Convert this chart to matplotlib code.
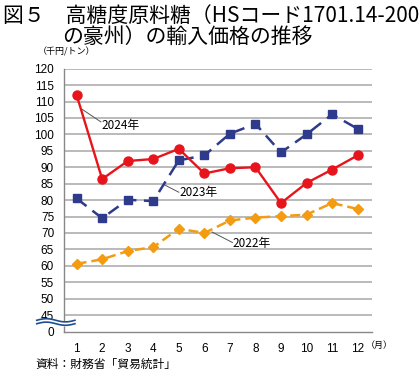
import numpy as np
import matplotlib.pyplot as plt

plt.rcParams['font.family'] = ['Liberation Sans', 'Noto Sans CJK JP']

months = list(range(1, 13))
y2024 = [112.0, 86.4, 91.9, 92.5, 95.6, 88.1, 89.7, 90.0, 79.1, 85.2, 89.3, 93.6]
y2023 = [80.5, 74.5, 80.1, 79.7, 92.1, 93.6, 100.2, 103.2, 94.5, 100.0, 106.1, 101.7]
y2022 = [60.6, 62.0, 64.5, 65.7, 71.3, 70.0, 73.8, 74.7, 75.1, 75.6, 79.1, 77.3]

yticks = list(range(40, 121, 5))
ytick_labels = ['0'] + [str(v) for v in yticks[1:]]

fig = plt.figure(figsize=(4.2, 3.73), dpi=100)
ax = fig.add_axes([0.152, 0.111, 0.733, 0.705])

cjk = ['Noto Sans CJK JP']

for v in yticks[1:]:
    ax.axhline(v, color='#b4b4b4', lw=1.3, zorder=0)

ax.plot(months, y2022, color='#f39c12', lw=1.8, ls=(0, (4, 2)),
        marker='D', ms=5.5, zorder=3)
ax.plot(months, y2023, color='#2e3a8c', lw=1.8, ls=(0, (5, 3)),
        marker='s', ms=5.5, zorder=3)
ax.plot(months, y2024, color='#e8141c', lw=1.7, marker='o', ms=6.5,
        zorder=4)

# series labels with leader lines
ax.plot([1.22, 1.95], [107.6, 103.8], color='#555555', lw=0.7, zorder=2)
ax.text(1.98, 102.6, '2024年', fontsize=8.5, va='center', ha='left',
        family=cjk)
ax.plot([4.45, 5.0], [84.6, 82.4], color='#555555', lw=0.7, zorder=2)
ax.text(5.04, 82.4, '2023年', fontsize=8.5, va='center', ha='left',
        family=cjk)
ax.plot([6.3, 7.1], [70.3, 67.1], color='#555555', lw=0.7, zorder=2)
ax.text(7.12, 66.7, '2022年', fontsize=8.5, va='center', ha='left',
        family=cjk)

ax.set_xlim(0.5, 12.55)
ax.set_ylim(40, 120)
ax.set_xticks(months)
ax.set_yticks(yticks)
ax.set_yticklabels(ytick_labels)
ax.tick_params(length=0, labelsize=8.5)
ax.tick_params(axis='y', pad=7)
ax.tick_params(axis='x', pad=8)
for s in ['top', 'right']:
    ax.spines[s].set_visible(False)
for s in ['left', 'bottom']:
    ax.spines[s].set_color('#888888')
    ax.spines[s].set_linewidth(1.0)

# axis break marks
wx = np.linspace(-0.088, 0.036, 60)
wave = 0.006 * np.sin((wx + 0.088) / 0.124 * 2 * np.pi)
ax.fill_between(wx, 0.043 + wave, 0.030 + wave, transform=ax.transAxes,
                color='white', clip_on=False, zorder=5)
for base in (0.043, 0.030):
    ax.plot(wx, base + wave, transform=ax.transAxes, color='#1f4e8c', lw=1.2,
            clip_on=False, zorder=6)

fig.text(0.008, 0.958, '図５　高糖度原料糖（HSコード1701.14-200', fontsize=15,
         va='center', ha='left', family=cjk)
fig.text(0.148, 0.902, 'の豪州）の輸入価格の推移', fontsize=15,
         va='center', ha='left', family=cjk)
fig.text(0.09, 0.862, '（千円/トン）', fontsize=6.5, va='center', ha='left',
         family=cjk)
fig.text(0.872, 0.075, '（月）', fontsize=6.5, va='center', ha='left',
         family=cjk)
fig.text(0.085, 0.022, '資料：財務省「貿易統計」', fontsize=8.5, va='center',
         ha='left', family=cjk)

fig.savefig('out.png', dpi=100)
